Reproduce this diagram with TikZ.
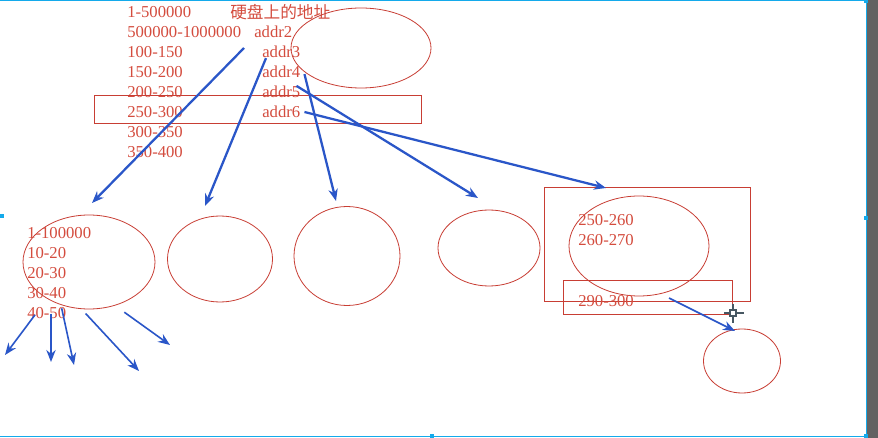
\documentclass[tikz,border=0pt]{standalone}
\usepackage{fontspec}
\setmainfont{Liberation Serif}
\newfontfamily\cjk{Noto Sans CJK SC}
\usetikzlibrary{shapes.geometric,arrows.meta}
\definecolor{txtred}{RGB}{212,76,62}
\definecolor{linered}{RGB}{200,62,52}
\definecolor{arrblue}{RGB}{42,86,200}
\definecolor{selcyan}{RGB}{20,170,235}
\definecolor{sidegrey}{RGB}{98,98,98}

\begin{document}
\begin{tikzpicture}[x=0.75pt,y=-0.75pt,
    lbl/.style={anchor=west,inner sep=0pt,text=txtred,font=\fontsize{12.5}{14}\selectfont},
    oval/.style={ellipse,draw=linered,line width=0.6pt,inner sep=0pt},
    blk/.style={draw=linered,line width=0.75pt},
    arr/.style={draw=arrblue,line width=1.7pt,-{Stealth[length=9pt,width=7pt]}},
    thinarr/.style={arr,line width=1.2pt},
    handle/.style={fill=selcyan,minimum size=3pt,inner sep=0pt}]
  \fill[white] (0,0) rectangle (878,438);
  \useasboundingbox (0,0) rectangle (878,438);
  % window edge and selection frame
  \fill[sidegrey] (867,0) rectangle (878,438);
  \draw[selcyan,line width=0.6pt] (0,0) -- (866,0) -- (866,436) -- (0,436);
  \node[handle] at (866,1) {};
  \node[handle] at (866,218) {};
  \node[handle] at (866,436) {};
  \node[handle] at (432,436) {};
  \node[handle] at (2,216) {};

  % top table
  \begin{scope}[every node/.style={lbl}]
    \node (r1) at (127,12) {1-500000};
    \node (r2) at (127,32) {500000-1000000};
    \node (r3) at (127,52) {100-150};
    \node (r4) at (127,72) {150-200};
    \node (r5) at (127,92) {200-250};
    \node (r6) at (127,112) {250-300};
    \node (r7) at (127,132) {300-350};
    \node (r8) at (127,152) {350-400};
    \node (head) at (230,12) {\cjk 硬盘上的地址};
    \node (addr2) at (254,32) {addr2};
    \node (addr3) at (262,52) {addr3};
    \node (addr4) at (262,72) {addr4};
    \node (addr5) at (262,92) {addr5};
    \node (addr6) at (262,112) {addr6};
  \end{scope}
  \node[oval,minimum width=105pt,minimum height=60pt] (top) at (361,48) {};
  \draw[blk] (94,96) rectangle (421,124);

  % lower level
  \begin{scope}[every node/.style={oval}]
    \node[minimum width=99pt,minimum height=70.5pt] (e1) at (89,262) {};
    \node[minimum width=78.75pt,minimum height=64.5pt] (e2) at (220,259) {};
    \node[minimum width=79.5pt,minimum height=74.25pt] (e3) at (347,256) {};
    \node[minimum width=76.5pt,minimum height=57pt] (e4) at (489,248) {};
    \node[minimum width=105pt,minimum height=75pt] (e5) at (639,246) {};
    \node[minimum width=57.75pt,minimum height=48pt] (e6) at (742,361) {};
  \end{scope}
  \draw[blk] (544,188) rectangle (750,302);
  \draw[blk] (563,281) rectangle (732,315);
  \begin{scope}[every node/.style={lbl}]
    \node (s1) at (27,233) {1-100000};
    \node (s2) at (27,253) {10-20};
    \node (s3) at (27,273) {20-30};
    \node (s4) at (27,293) {30-40};
    \node (s5) at (27,313) {40-50};
    \node (t1) at (578,220) {250-260};
    \node (t2) at (578,240) {260-270};
    \node (t3) at (578,301) {290-300};
  \end{scope}

  % arrow ends
  \coordinate (from1) at (244,48);
  \coordinate (from6) at (669,298);
  \coordinate (to1) at (92,203);
  \coordinate (to2) at (205,206);
  \coordinate (to3) at (336,201);
  \coordinate (to4) at (478,198);
  \coordinate (to5) at (606,188);
  \coordinate (to6) at (735,331);
  \coordinate (d1) at (5,355);
  \coordinate (d2) at (51,362);
  \coordinate (d3) at (74,365);
  \coordinate (d4) at (139,371);
  \coordinate (d5) at (170,345);

  \draw[arr] (from1) -- (to1);
  \draw[arr] ([xshift=3pt]addr3.south west) -- (to2);
  \draw[arr] ([shift={(3pt,3pt)}]addr4.south east) -- (to3);
  \draw[arr] ([xshift=-3pt]addr5.north east) -- (to4);
  \draw[arr] ([xshift=3pt]addr6.east) -- (to5);
  \draw[thinarr] (from6) -- (to6);
  \draw[thinarr] ([shift={(6pt,3pt)}]s5.south west) -- (d1);
  \draw[thinarr] ([shift={(18pt,4pt)}]s5.south west) -- (d2);
  \draw[thinarr] ([shift={(26pt,8pt)}]s5.south west) -- (d3);
  \draw[thinarr] ([shift={(44pt,4pt)}]s5.south west) -- (d4);
  \draw[thinarr] ([shift={(73pt,5pt)}]s5.south west) -- (d5);

  % mouse cursor
  \draw[black!70!cyan,line width=0.8pt] (724,313) -- (744,313) (733,304) -- (733,323);
  \draw[black!70!cyan,fill=white,line width=0.8pt] (730,310) rectangle (736,316);
\end{tikzpicture}
\end{document}
